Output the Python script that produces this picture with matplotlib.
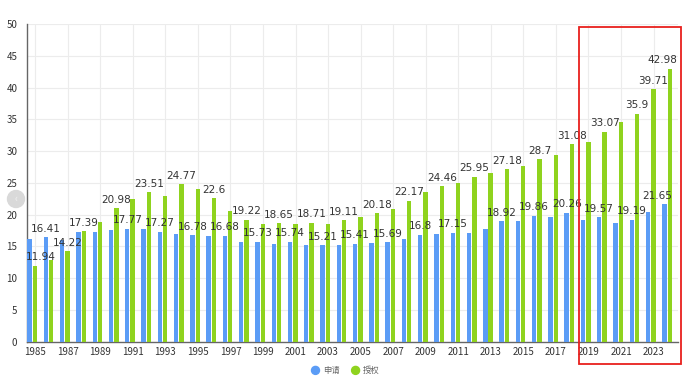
import matplotlib
matplotlib.use("Agg")
import matplotlib.pyplot as plt
from matplotlib.patches import Rectangle, Circle
import numpy as np

plt.rcParams['font.family'] = ['Noto Sans CJK SC', 'DejaVu Sans']

years = list(range(1985, 2025))
apply_vals = [16.1, 16.41, 16.0, 17.2, 17.2, 17.65, 17.77, 17.7, 17.27, 17.0,
              16.78, 16.65, 16.68, 15.75, 15.73, 15.3, 15.74, 15.2, 15.21, 15.25,
              15.41, 15.5, 15.69, 16.2, 16.8, 16.95, 17.15, 17.05, 17.7, 18.92,
              19.0, 19.86, 19.6, 20.26, 19.1, 19.57, 18.7, 19.19, 20.4, 21.65]
grant_vals = [11.94, 12.9, 14.22, 17.39, 18.9, 20.98, 22.4, 23.51, 23.0, 24.77,
              24.0, 22.6, 20.6, 19.22, 18.5, 18.65, 18.5, 18.71, 18.46, 19.11,
              19.55, 20.18, 20.9, 22.17, 23.5, 24.46, 25.0, 25.95, 26.5, 27.18,
              27.7, 28.7, 29.4, 31.08, 31.5, 33.07, 34.6, 35.9, 39.71, 42.98]
apply_label_years = [1986, 1991, 1993, 1995, 1997, 1999, 2001, 2003, 2005, 2007,
                     2009, 2011, 2014, 2016, 2018, 2020, 2022, 2024]
grant_label_years = [1985, 1987, 1988, 1990, 1992, 1994, 1996, 1998, 2000, 2002,
                     2004, 2006, 2008, 2010, 2012, 2014, 2016, 2018, 2020, 2022,
                     2023, 2024]
series_names = ['申请', '授权']
yticks = list(range(0, 51, 5))

blue = '#5b9cf6'
green = '#8fd31e'
txt = '#333333'

W, H = 692, 379
fig = plt.figure(figsize=(W/100, H/100), dpi=100)
ax = fig.add_axes([27/W, 1-341.7/H, (678-27)/W, (341.7-24)/H])

x = np.arange(len(years))
w = 0.27
ax.bar(x - 0.34, apply_vals, width=w, color=blue, zorder=3, label=series_names[0])
ax.bar(x - 0.01, grant_vals, width=w, color=green, zorder=3, label=series_names[1])

ax.set_xlim(-0.5, len(years) - 0.5)
ax.set_ylim(0, 50)
ax.set_yticks(yticks)
ax.set_yticklabels([str(v) for v in yticks])
odd_idx = [i for i, y in enumerate(years) if (y - 1985) % 2 == 0]
ax.set_xticks(odd_idx)
ax.set_xticklabels([str(years[i]) for i in odd_idx])
ax.tick_params(axis='both', length=0, labelsize=7, colors=txt)
ax.tick_params(axis='y', pad=7)
ax.tick_params(axis='x', pad=4)
ax.grid(True, color='#ececec', linewidth=0.8, zorder=0)
for s in ['top', 'right']:
    ax.spines[s].set_visible(False)
for s in ['left', 'bottom']:
    ax.spines[s].set_color('#666666')
    ax.spines[s].set_linewidth(1.0)

shift = {1985: 4, 2024: -5}
fs = 7.5
for yr in apply_label_years:
    i = years.index(yr)
    ax.annotate(f"{apply_vals[i]:g}", (i - 0.34, apply_vals[i]), xytext=(shift.get(yr, 0), 2.5),
                textcoords='offset points', ha='center', va='bottom', fontsize=fs, color=txt,
                family=['DejaVu Sans'], zorder=5)
for yr in grant_label_years:
    i = years.index(yr)
    ax.annotate(f"{grant_vals[i]:g}", (i - 0.01, grant_vals[i]), xytext=(shift.get(yr, 0), 2.5),
                textcoords='offset points', ha='center', va='bottom', fontsize=fs, color=txt,
                family=['DejaVu Sans'], zorder=5)

# legend
leg = fig.legend(loc='lower center', bbox_to_anchor=(0.5, -0.01), ncol=2, frameon=False,
                 fontsize=6, handlelength=0.8, handleheight=0.8, columnspacing=1.5,
                 handletextpad=0.5, labelcolor='#666666')
for h in leg.legend_handles:
    h.set_visible(False)
fig.canvas.draw()
for h, c in zip(leg.legend_handles, [blue, green]):
    bb = h.get_window_extent()
    cx, cy = (bb.x0 + bb.x1) / 2, (bb.y0 + bb.y1) / 2
    fig.patches.append(Circle((cx / 100, cy / 100), 4/100, transform=fig.dpi_scale_trans,
                              color=c, zorder=5))

# red highlight box
fig.patches.append(Rectangle((579/W, 1-364/H), (681-579)/W, (364-27)/H,
                             transform=fig.transFigure, fill=False, edgecolor='#e8201c',
                             linewidth=1.3, zorder=10))
# carousel arrow artifact
cxp, cyp = 16, H - 199
fig.patches.append(Circle((cxp/100, cyp/100), 8.5/100, transform=fig.dpi_scale_trans,
                          color='#d9d9d9', zorder=10))
fig.text(cxp/W, cyp/H, '‹', ha='center', va='center', fontsize=7, color='#f4f4f4', zorder=11)

fig.savefig('out.png', dpi=100)
